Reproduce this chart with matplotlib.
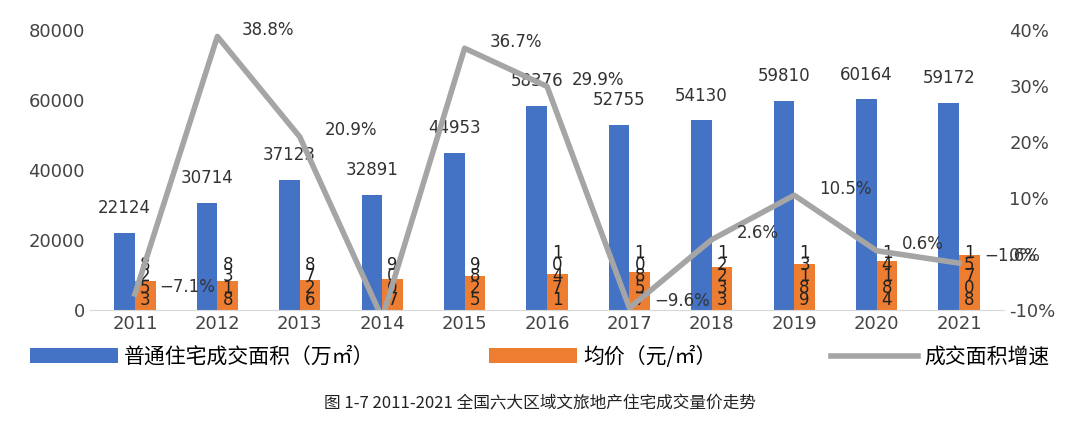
import numpy as np
import matplotlib.pyplot as plt

plt.rcParams["font.family"] = ["Noto Sans CJK SC"]

years = ["2011", "2012", "2013", "2014", "2015", "2016", "2017", "2018", "2019", "2020", "2021"]
area = [22124, 30714, 37123, 32891, 44953, 58376, 52755, 54130, 59810, 60164, 59172]
price = [8253, 8318, 8726, 9007, 9825, 10471, 10857, 12233, 13189, 14184, 15708]
growth = [-7.1, 38.8, 20.9, -11.4, 36.7, 29.9, -9.6, 2.6, 10.5, 0.6, -1.6]
growth_labels = ["-7.1%", "38.8%", "20.9%", None, "36.7%", "29.9%", "-9.6%", "2.6%", "10.5%", "0.6%", "-1.6%"]

blue = "#4472C4"
orange = "#ED7D31"
gray = "#A5A5A5"

fig = plt.figure(figsize=(10.8, 4.25), dpi=100)
ax = fig.add_axes([0.083, 0.27, 0.847, 0.66])
ax2 = ax.twinx()

x = np.arange(len(years))
w = 0.25
b1 = ax.bar(x - w / 2, area, w, color=blue, label="普通住宅成交面积（万㎡）")
b2 = ax.bar(x + w / 2, price, w, color=orange, label="均价（元/㎡）")

for xi, v in zip(x, area):
    ax.text(xi - w / 2, v + 4500, str(v), ha="center", va="bottom", fontsize=12,
            color="#333333", family="DejaVu Sans")
# price labels drawn as stacked digits like the source
for xi, v in zip(x, price):
    ax.text(xi + w / 2, 400, "\n".join(str(v)), ha="center", va="bottom", fontsize=12,
            linespacing=0.55, color="#222222", family="DejaVu Sans")

ln, = ax2.plot(x, growth, color=gray, lw=4, label="成交面积增速", zorder=3)
for xi, v, lab in zip(x, growth, growth_labels):
    if lab:
        ax2.text(xi + 0.3, v + 1.2, lab.replace("-", "−"), ha="left", va="center", fontsize=12,
                 color="#333333", family="DejaVu Sans")

ax.set_xlim(-0.55, len(years) - 0.45)
ax.set_ylim(0, 80000)
ax.set_yticks(range(0, 80001, 20000))
ax2.set_ylim(-10, 40)
ax2.set_yticks(range(-10, 41, 10))
ax2.set_yticklabels([f"{t}%" for t in range(-10, 41, 10)])
ax.set_xticks(x)
ax.set_xticklabels(years)

for a in (ax, ax2):
    for s in a.spines.values():
        s.set_visible(False)
    a.tick_params(length=0, labelsize=13, colors="#444444")
ax.spines["bottom"].set_visible(True)
ax.spines["bottom"].set_color("#D9D9D9")
for t in ax.get_yticklabels() + ax2.get_yticklabels() + ax.get_xticklabels():
    t.set_family("DejaVu Sans")

fig.legend(handles=[b1, b2, ln], loc="center", bbox_to_anchor=(0.5, 0.16), ncol=3,
           frameon=False, fontsize=15, handlelength=4.2, columnspacing=5.5, handletextpad=0.3)

fig.text(0.5, 0.04, "图 1-7 2011-2021 全国六大区域文旅地产住宅成交量价走势", ha="center",
         fontsize=12, family="Noto Sans CJK SC", color="#222222")

fig.savefig("out.png", dpi=100)
